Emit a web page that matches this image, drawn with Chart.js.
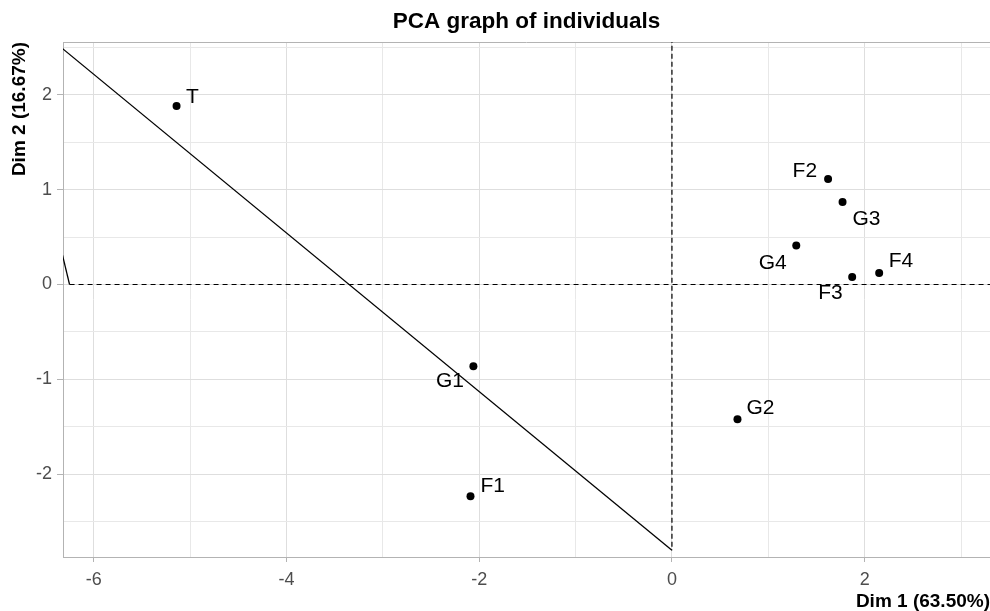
<!DOCTYPE html>
<html><head><meta charset="utf-8">
<script src="https://cdn.jsdelivr.net/npm/chart.js@4/dist/chart.umd.min.js"></script>
<style>html,body{margin:0;padding:0;background:#fff;}canvas{display:block;}</style>
</head><body>
<canvas id="c" width="990" height="611"></canvas>
<script>
// ---- data ----
const individuals = ['T', 'F2', 'G3', 'G4', 'F4', 'F3', 'G1', 'G2', 'F1'];
const dim1 = [-5.14, 1.62, 1.77, 1.29, 2.15, 1.87, -2.06, 0.68, -2.09];
const dim2 = [1.88, 1.11, 0.87, 0.41, 0.12, 0.08, -0.86, -1.42, -2.23];

const diagLineX = [-6.33, 0];
const diagLineY = [2.49, -2.80];
const shortLineX = [-6.34, -6.25];
const shortLineY = [0.38, 0.0];
const hRefX = [-6.25, 3.4];
const hRefY = [0, 0];
const vRefX = [0, 0];
const vRefY = [2.6, -2.80];

const xGridValues = [-6, -5, -4, -3, -2, -1, 0, 1, 2, 3];
const xTickLabels = ['-6', '', '-4', '', '-2', '', '0', '', '2', ''];
const yGridValues = [-2.5, -2, -1.5, -1, -0.5, 0, 0.5, 1, 1.5, 2, 2.5];
const yTickLabels = ['', '-2', '', '-1', '', '0', '', '1', '', '2', ''];

const titleText = 'PCA graph of individuals';
const xTitle = 'Dim 1 (63.50%)';
const yTitle = 'Dim 2 (16.67%)';

// ---- label placement (pixels relative to the point) ----
const labelPlacement = [
  {dx: 9.5, dy: -9, align: 'left'},
  {dx: -11, dy: -8, align: 'right'},
  {dx: 10, dy: 17, align: 'left'},
  {dx: -9.5, dy: 18, align: 'right'},
  {dx: 9.5, dy: -11.5, align: 'left'},
  {dx: -9.5, dy: 16.5, align: 'right'},
  {dx: -9.5, dy: 15.5, align: 'right'},
  {dx: 9, dy: -11, align: 'left'},
  {dx: 10, dy: -10.5, align: 'left'}
];

const FONT = '"Liberation Sans", Arial, Helvetica, sans-serif';
Chart.defaults.font.family = FONT;

const pts = dim1.map((x, i) => ({x: x, y: dim2[i]}));
const pairs = (xs, ys) => xs.map((x, i) => ({x: x, y: ys[i]}));

const pointLabels = {
  id: 'pointLabels',
  afterDatasetsDraw(chart) {
    const ctx = chart.ctx;
    const meta = chart.getDatasetMeta(4);
    ctx.save();
    ctx.font = '21px ' + FONT;
    ctx.fillStyle = '#000';
    ctx.textBaseline = 'middle';
    meta.data.forEach((el, i) => {
      const p = labelPlacement[i];
      ctx.textAlign = p.align;
      ctx.fillText(individuals[i], el.x + p.dx, el.y + p.dy);
    });
    ctx.restore();
  }
};

const topBorder = {
  id: 'topBorder',
  beforeDatasetsDraw(chart) {
    const {ctx, chartArea} = chart;
    ctx.save();
    ctx.strokeStyle = '#B3B3B3';
    ctx.lineWidth = 1;
    ctx.beginPath();
    const y = Math.round(chartArea.top) + 0.5;
    ctx.moveTo(chartArea.left, y);
    ctx.lineTo(chartArea.right, y);
    ctx.stroke();
    ctx.restore();
  }
};

new Chart(document.getElementById('c'), {
  type: 'scatter',
  data: {
    datasets: [
      {data: pairs(diagLineX, diagLineY), showLine: true, borderColor: '#000', borderWidth: 1.3, pointRadius: 0, fill: false},
      {data: pairs(shortLineX, shortLineY), showLine: true, borderColor: '#000', borderWidth: 1.3, pointRadius: 0, fill: false},
      {data: pairs(hRefX, hRefY), showLine: true, borderColor: '#000', borderWidth: 1.2, borderDash: [5, 4], pointRadius: 0, fill: false},
      {data: pairs(vRefX, vRefY), showLine: true, borderColor: '#000', borderWidth: 1.2, borderDash: [5, 3], pointRadius: 0, fill: false},
      {data: pts, pointRadius: 4, pointBackgroundColor: '#000', pointBorderColor: '#000', pointBorderWidth: 0, showLine: false}
    ]
  },
  options: {
    responsive: false,
    animation: false,
    devicePixelRatio: 1,
    layout: {padding: 0, autoPadding: false},
    plugins: {
      legend: {display: false},
      tooltip: {enabled: false},
      title: {
        display: true,
        text: titleText,
        fullSize: false,
        color: '#000',
        font: {size: 22.5, weight: 'bold', family: FONT},
        padding: {top: 8, bottom: 7}
      }
    },
    scales: {
      x: {
        type: 'linear',
        min: -6.318,
        max: 3.30,
        afterBuildTicks: s => { s.ticks = xGridValues.map(v => ({value: v})); },
        afterFit: s => { s.height = 54; s.paddingLeft = 0; s.paddingRight = 0; },
        ticks: {
          autoSkip: false,
          maxRotation: 0,
          color: '#4D4D4D',
          font: {size: 18},
          padding: 7.5,
          callback: (v, i) => xTickLabels[xGridValues.indexOf(v)] ?? ''
        },
        grid: {
          color: c => (c.tick && Math.abs(c.tick.value % 2) === 0) ? '#DEDEDE' : '#E8E8E8',
          lineWidth: 1,
          tickLength: 5,
          tickColor: c => (c.tick && Math.abs(c.tick.value % 2) === 0) ? '#B3B3B3' : 'rgba(0,0,0,0)'
        },
        border: {display: true, color: '#B3B3B3', width: 1},
        title: {
          display: true,
          text: xTitle,
          align: 'end',
          color: '#000',
          font: {size: 19, weight: 'bold', lineHeight: 1},
          padding: {top: 0, bottom: 0}
        }
      },
      y: {
        type: 'linear',
        min: -2.87,
        max: 2.554,
        afterBuildTicks: s => { s.ticks = yGridValues.map(v => ({value: v})); },
        afterFit: s => { s.width = 63; s.paddingTop = 0; s.paddingBottom = 0; },
        ticks: {
          autoSkip: false,
          color: '#4D4D4D',
          font: {size: 18},
          padding: 5,
          callback: (v) => yTickLabels[yGridValues.indexOf(v)] ?? ''
        },
        grid: {
          color: c => (c.tick && Number.isInteger(c.tick.value)) ? '#DEDEDE' : '#E8E8E8',
          lineWidth: 1,
          tickLength: 6,
          tickColor: c => (c.tick && Number.isInteger(c.tick.value)) ? '#B3B3B3' : 'rgba(0,0,0,0)'
        },
        border: {display: true, color: '#B3B3B3', width: 1},
        title: {
          display: true,
          text: yTitle,
          align: 'end',
          color: '#000',
          font: {size: 19, weight: 'bold', lineHeight: 1},
          padding: {top: 10.5, bottom: 0}
        }
      }
    }
  },
  plugins: [topBorder, pointLabels]
});
</script>
</body></html>
